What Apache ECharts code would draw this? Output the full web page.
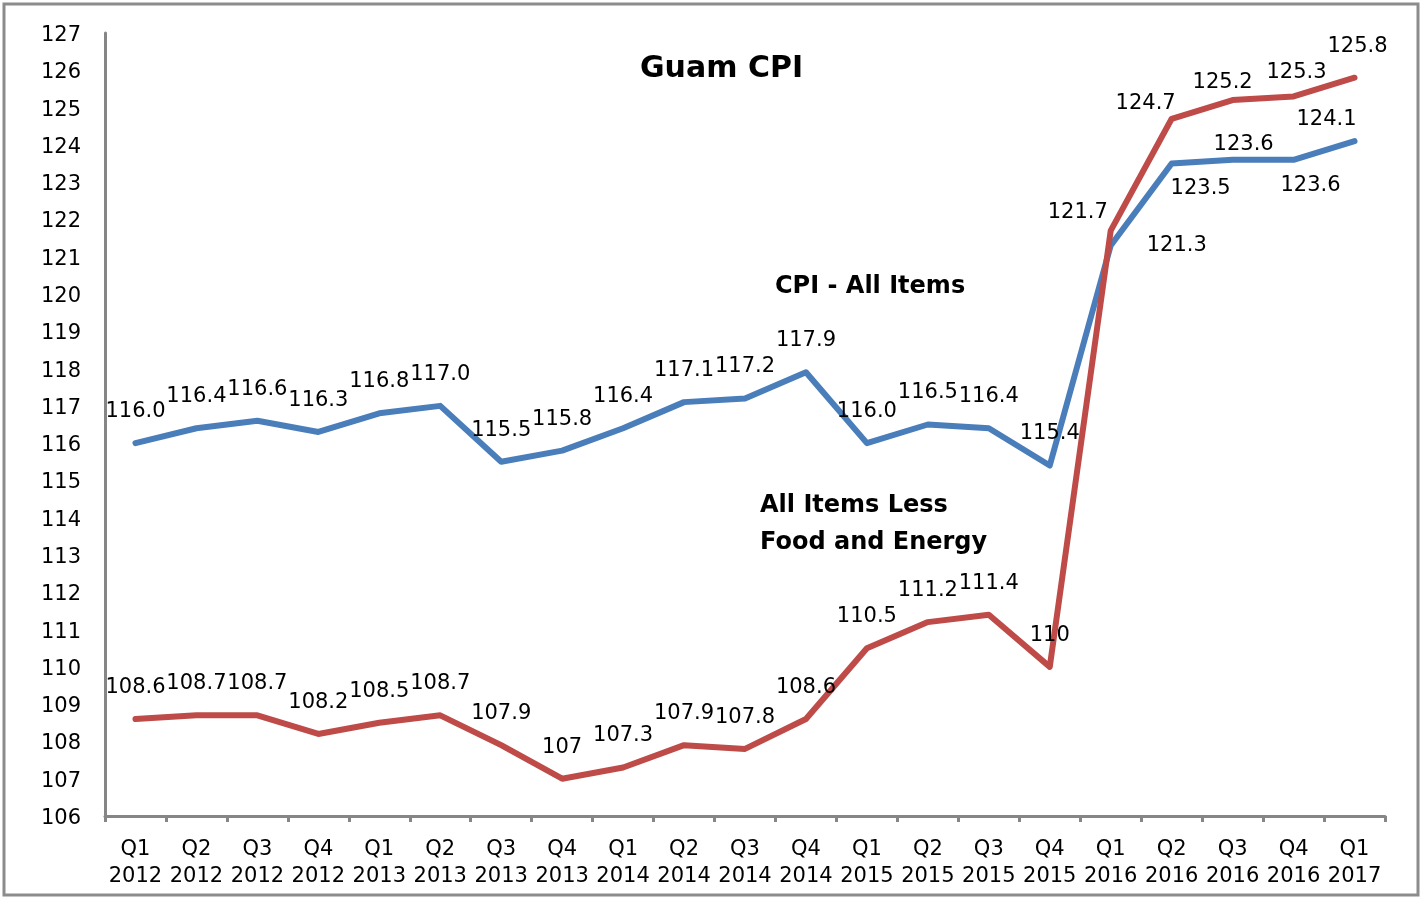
<!DOCTYPE html>
<html>
<head>
<meta charset="utf-8">
<script src="https://cdn.jsdelivr.net/npm/echarts@6/dist/echarts.min.js"></script>
<style>
  html, body { margin: 0; padding: 0; background: #fff; }
  #chart { width: 1424px; height: 898px; }
</style>
</head>
<body>
<div id="chart"></div>
<script>
const categories = [
  "Q1\n2012","Q2\n2012","Q3\n2012","Q4\n2012",
  "Q1\n2013","Q2\n2013","Q3\n2013","Q4\n2013",
  "Q1\n2014","Q2\n2014","Q3\n2014","Q4\n2014",
  "Q1\n2015","Q2\n2015","Q3\n2015","Q4\n2015",
  "Q1\n2016","Q2\n2016","Q3\n2016","Q4\n2016",
  "Q1\n2017"
];
const cpiAllItems = [116.0,116.4,116.6,116.3,116.8,117.0,115.5,115.8,116.4,117.1,117.2,117.9,116.0,116.5,116.4,115.4,121.3,123.5,123.6,123.6,124.1];
const lessFoodEnergy = [108.6,108.7,108.7,108.2,108.5,108.7,107.9,107.0,107.3,107.9,107.8,108.6,110.5,111.2,111.4,110.0,121.7,124.7,125.2,125.3,125.8];
const yMin = 106, yMax = 127, yStep = 1;

// label placement tweaks (index -> [position, dx, dy])
const blueLabelTweaks = {16:['top',66,32],17:['bottom',29,-7],18:['top',11,16],19:['bottom',17,-6],20:['top',-28,10]};
const redLabelTweaks  = {16:['top',-33,13],17:['top',-26,16],18:['top',-10,14],19:['top',3,8],20:['top',3,0]};

function buildData(values, tweaks) {
  return values.map((v, i) => {
    const item = { value: v };
    const t = tweaks[i];
    if (t && t[0] !== 'top') item.label = { position: t[0] };
    return item;
  });
}
function layoutFor(tweaks) {
  return function (params) {
    const t = tweaks[params.dataIndex];
    if (!t) return { hideOverlap: false };
    return { dx: t[1], dy: t[2], hideOverlap: false };
  };
}

const labelFont = { fontFamily: 'DejaVu Sans', fontSize: 21, color: '#000' };

const chart = echarts.init(document.getElementById('chart'), null, { renderer: 'canvas' });
chart.setOption({
  animation: false,
  backgroundColor: '#fff',
  grid: { left: 105, right: 39, top: 33, bottom: 82 },
  xAxis: {
    type: 'category',
    data: categories,
    boundaryGap: true,
    axisLine: { lineStyle: { color: '#868686', width: 3 } },
    axisTick: { show: true, length: 6, lineStyle: { color: '#868686', width: 3 } },
    axisLabel: { interval: 0, margin: 20, fontFamily: 'DejaVu Sans', fontSize: 21, color: '#000', lineHeight: 27 },
    splitLine: { show: false }
  },
  yAxis: {
    type: 'value',
    min: yMin, max: yMax, interval: yStep,
    axisLine: { show: true, lineStyle: { color: '#868686', width: 3 } },
    axisTick: { show: false },
    axisLabel: { margin: 24, fontFamily: 'DejaVu Sans', fontSize: 21, color: '#000', verticalAlign: 'top', lineHeight: 21, padding: [-8, 0, 0, 0] },
    splitLine: { show: false }
  },
  series: [
    {
      name: 'CPI - All Items',
      type: 'line',
      data: buildData(cpiAllItems, blueLabelTweaks),
      showSymbol: true,
      symbol: 'circle',
      symbolSize: 0.1,
      lineStyle: { color: '#4a7ebb', width: 6, cap: 'round', join: 'round' },
      itemStyle: { color: '#4a7ebb' },
      label: Object.assign({ show: true, position: 'top', distance: 21,
        formatter: p => p.value.toFixed(1) }, labelFont),
      labelLayout: layoutFor(blueLabelTweaks),
      z: 2
    },
    {
      name: 'All Items Less Food and Energy',
      type: 'line',
      data: buildData(lessFoodEnergy, redLabelTweaks),
      showSymbol: true,
      symbol: 'circle',
      symbolSize: 0.1,
      lineStyle: { color: '#be4b48', width: 6, cap: 'round', join: 'round' },
      itemStyle: { color: '#be4b48' },
      label: Object.assign({ show: true, position: 'top', distance: 21,
        formatter: p => String(p.value) }, labelFont),
      labelLayout: layoutFor(redLabelTweaks),
      z: 3
    }
  ],
  graphic: [
    { type: 'rect', shape: { x: 4, y: 4, width: 1414, height: 891 }, style: { fill: 'none', stroke: '#8c8c8c', lineWidth: 3 }, silent: true },
    { type: 'text', left: 640, top: 54, style: { text: 'Guam CPI', fontFamily: 'DejaVu Sans', fontWeight: 'bold', fontSize: 30, fill: '#000' } },
    { type: 'text', left: 775, top: 275, style: { text: 'CPI - All Items', fontFamily: 'DejaVu Sans', fontWeight: 'bold', fontSize: 24, fill: '#000' } },
    { type: 'text', left: 760, top: 487, style: { text: 'All Items Less\nFood and Energy', lineHeight: 37, fontFamily: 'DejaVu Sans', fontWeight: 'bold', fontSize: 24, fill: '#000' } }
  ]
});
</script>
</body>
</html>
